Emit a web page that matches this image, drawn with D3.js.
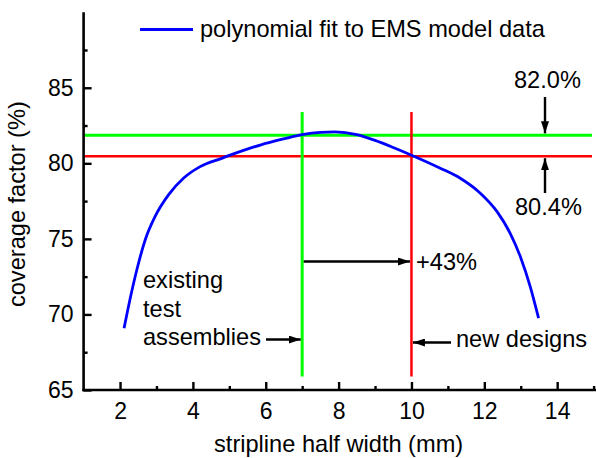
<!DOCTYPE html>
<html>
<head>
<meta charset="utf-8">
<script src="https://cdn.jsdelivr.net/npm/d3@7"></script>
<style>
  html, body { margin: 0; padding: 0; background: #fff; }
  svg { display: block; font-family: Arial, "Liberation Sans", sans-serif; }
</style>
</head>
<body>
<div id="chart"></div>
<script>
// polynomial fit curve
const fitX = [2.11, 2.27, 2.46, 2.69, 2.96, 3.33, 3.74, 4.2, 4.79, 5.29, 5.85, 6.5, 7.0, 7.5, 7.9, 8.5, 9.0, 9.5, 10.05, 10.79, 11.34, 11.89, 12.35, 12.71, 12.99, 13.26, 13.49];
const fitY = [69.08, 70.96, 72.94, 74.93, 76.47, 77.91, 79.01, 79.78, 80.33, 80.77, 81.21, 81.62, 81.9, 82.05, 82.08, 81.9, 81.52, 81.05, 80.49, 79.68, 79.01, 78.02, 76.8, 75.37, 73.82, 71.84, 69.75];

const xTicks = [2, 4, 6, 8, 10, 12, 14];
const xMinor = [3, 5, 7, 9, 11, 13, 15];
const yTicks = [65, 70, 75, 80, 85];
const yMinor = [67.5, 72.5, 77.5, 82.5, 87.5];

const levelExisting = 81.85;   // green
const levelNew = 80.47;        // red
const widthExisting = 7;
const widthNew = 10;
const vLineRange = [65.9, 83.4];

const legendLabel = 'polynomial fit to EMS model data';
const xTitle = 'stripline half width (mm)';
const yTitle = 'coverage factor (%)';

const W = 596, H = 458;
const fs = 23.6;      // labels and annotations
const tickFs = 23;

const svg = d3.select('#chart').append('svg')
    .attr('width', W)
    .attr('height', H);

svg.append('defs').append('marker')
    .attr('id', 'arrow')
    .attr('viewBox', '0 0 12 8')
    .attr('refX', 12)
    .attr('refY', 4)
    .attr('markerWidth', 12)
    .attr('markerHeight', 8)
    .attr('markerUnits', 'userSpaceOnUse')
    .attr('orient', 'auto')
    .append('path')
    .attr('d', 'M0,0 L12,4 L0,8 Z')
    .attr('fill', '#000');

const x = d3.scaleLinear().domain([1, 15]).range([83.6, 593.6]);
const y = d3.scaleLinear().domain([65, 90]).range([390, 12.2]);

// horizontal levels
svg.append('line')
    .attr('x1', x(1)).attr('x2', 592)
    .attr('y1', y(levelExisting)).attr('y2', y(levelExisting))
    .attr('stroke', '#00ff00').attr('stroke-width', 3);
svg.append('line')
    .attr('x1', x(1)).attr('x2', 592)
    .attr('y1', y(levelNew)).attr('y2', y(levelNew))
    .attr('stroke', '#ff0000').attr('stroke-width', 2.5);

// vertical widths
svg.append('line')
    .attr('x1', x(widthExisting)).attr('x2', x(widthExisting))
    .attr('y1', y(vLineRange[0])).attr('y2', y(vLineRange[1]))
    .attr('stroke', '#00ff00').attr('stroke-width', 3);
svg.append('line')
    .attr('x1', x(widthNew)).attr('x2', x(widthNew))
    .attr('y1', y(vLineRange[0])).attr('y2', y(vLineRange[1]))
    .attr('stroke', '#ff0000').attr('stroke-width', 2.5);

// fit curve
const fit = fitX.map((d, i) => [d, fitY[i]]);
svg.append('path')
    .datum(fit)
    .attr('fill', 'none')
    .attr('stroke', '#0000ff')
    .attr('stroke-width', 2.8)
    .attr('d', d3.line()
        .x(d => x(d[0]))
        .y(d => y(d[1]))
        .curve(d3.curveMonotoneX));

// axes
const xAxis = svg.append('g')
    .attr('transform', `translate(0,${y(65)})`)
    .call(d3.axisBottom(x).tickValues(xTicks).tickSizeInner(-8).tickSizeOuter(0).tickPadding(13));
xAxis.select('.domain').attr('d', `M${x(1) - 1.2},0H${W}`);
svg.append('g')
    .attr('transform', `translate(0,${y(65)})`)
    .call(d3.axisBottom(x).tickValues(xMinor).tickSize(-4).tickFormat(''))
    .select('.domain').remove();

const yAxis = svg.append('g')
    .attr('transform', `translate(${x(1)},0)`)
    .call(d3.axisLeft(y).tickValues(yTicks).tickSizeInner(-8).tickSizeOuter(0).tickPadding(10));
yAxis.select('.domain').attr('d', `M0,${y(90)}V${y(65) + 1.2}`);
svg.append('g')
    .attr('transform', `translate(${x(1)},0)`)
    .call(d3.axisLeft(y).tickValues(yMinor).tickSize(-4).tickFormat(''))
    .select('.domain').remove();

svg.selectAll('.domain').attr('stroke', '#000').attr('stroke-width', 2.6);
svg.selectAll('.tick line').attr('stroke', '#000').attr('stroke-width', 2.4);
svg.selectAll('.tick text')
    .style('font-size', tickFs + 'px')
    .style('font-family', 'Arial, "Liberation Sans", sans-serif')
    .attr('fill', '#000');

svg.append('text')
    .attr('x', x(8))
    .attr('y', 452)
    .attr('text-anchor', 'middle')
    .style('font-size', fs + 'px')
    .text(xTitle);

svg.append('text')
    .attr('transform', `translate(25,${y(77.3)}) rotate(-90)`)
    .attr('text-anchor', 'middle')
    .style('font-size', fs + 'px')
    .text(yTitle);

// legend
svg.append('line')
    .attr('x1', 140).attr('x2', 193)
    .attr('y1', 29.5).attr('y2', 29.5)
    .attr('stroke', '#0000ff').attr('stroke-width', 2.8);
svg.append('text')
    .attr('x', 200).attr('y', 37)
    .style('font-size', fs + 'px')
    .text(legendLabel);

// annotations
function arrow(x1, y1, x2, y2) {
    svg.append('line')
        .attr('x1', x1).attr('y1', y1)
        .attr('x2', x2).attr('y2', y2)
        .attr('stroke', '#000')
        .attr('stroke-width', 2.4)
        .attr('marker-end', 'url(#arrow)');
}

svg.append('text').attr('x', 514).attr('y', 88).style('font-size', fs + 'px').text('82.0%');
arrow(545, 97, 545, y(levelExisting) - 2);
svg.append('text').attr('x', 515).attr('y', 215).style('font-size', fs + 'px').text('80.4%');
arrow(545, 193, 545, y(levelNew) + 2);

arrow(x(widthExisting) + 1.5, 261.5, x(widthNew) - 1.5, 261.5);
svg.append('text').attr('x', 416).attr('y', 270).style('font-size', fs + 'px').text('+43%');

const existing = ['existing', 'test', 'assemblies'];
existing.forEach((t, i) => {
    svg.append('text')
        .attr('x', 143)
        .attr('y', 288 + i * 28.5)
        .style('font-size', fs + 'px')
        .text(t);
});
arrow(266, 339.5, x(widthExisting) - 1.5, 339.5);

svg.append('text').attr('x', 456).attr('y', 347).style('font-size', fs + 'px').text('new designs');
arrow(451, 342.5, x(widthNew) + 1.5, 342.5);
</script>
</body>
</html>
